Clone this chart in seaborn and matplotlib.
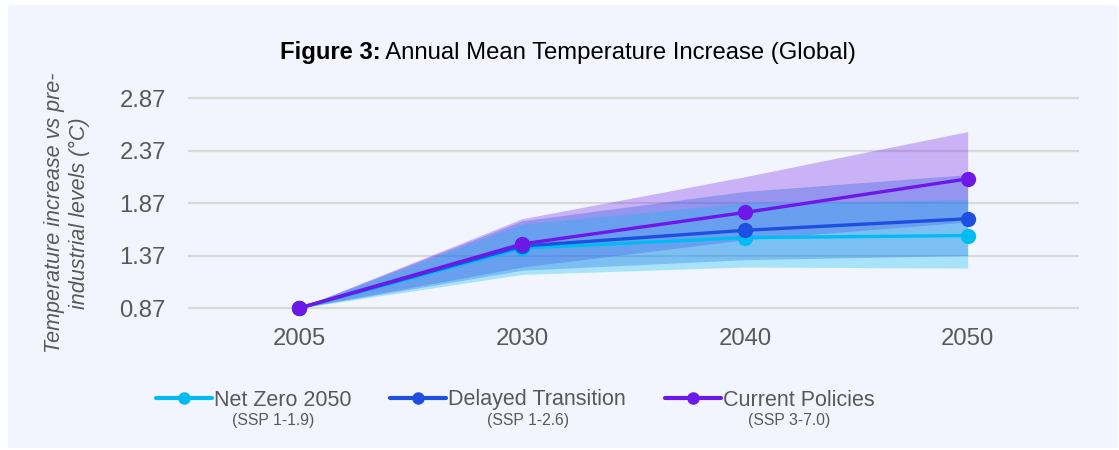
import matplotlib
matplotlib.use("Agg")
import matplotlib.pyplot as plt
from matplotlib.lines import Line2D
from matplotlib.patches import Rectangle
import numpy as np
import pandas as pd
import seaborn as sns

# ---- data -------------------------------------------------------------
years = ["2005", "2030", "2040", "2050"]
scenarios = ["Net Zero 2050", "Delayed Transition", "Current Policies"]
ssp_labels = ["(SSP 1-1.9)", "(SSP 1-2.6)", "(SSP 3-7.0)"]

net_zero_mean = [0.87, 1.44, 1.54, 1.56]
net_zero_low = [0.87, 1.19, 1.26, 1.25]
net_zero_high = [0.87, 1.67, 1.87, 1.90]

delayed_mean = [0.87, 1.46, 1.61, 1.72]
delayed_low = [0.87, 1.23, 1.33, 1.37]
delayed_high = [0.87, 1.70, 1.98, 2.14]

current_mean = [0.87, 1.48, 1.78, 2.10]
current_low = [0.87, 1.26, 1.52, 1.69]
current_high = [0.87, 1.72, 2.12, 2.55]

y_ticks = [0.87, 1.37, 1.87, 2.37, 2.87]

colors = ["#00BCF2", "#1E4FE0", "#6D17E8"]
band_alpha = [0.30, 0.30, 0.30]
bg = "#F2F5FD"
text_grey = "#595959"

means = [net_zero_mean, delayed_mean, current_mean]
lows = [net_zero_low, delayed_low, current_low]
highs = [net_zero_high, delayed_high, current_high]

df = pd.DataFrame({
    "year": years * len(scenarios),
    "scenario": np.repeat(scenarios, len(years)),
    "value": np.concatenate(means),
})

# ---- figure -----------------------------------------------------------
sns.set_theme(style="white")
plt.rcParams["font.family"] = ["Liberation Sans", "DejaVu Sans"]

W, H = 1119, 450
fig = plt.figure(figsize=(W / 100, H / 100), dpi=100, facecolor="white")
fig.patches.append(Rectangle((8 / W, 1 - 448 / H), 1110 / W, 443 / H,
                             transform=fig.transFigure, facecolor=bg,
                             edgecolor="none", zorder=-10))

ymin, ymax = 0.80, 2.95
px_per_unit = 105.0
top_px = 308 - (ymax - 0.87) * px_per_unit
bot_px = 308 + (0.87 - ymin) * px_per_unit
ax = fig.add_axes([188 / W, 1 - bot_px / H, 891 / W, (bot_px - top_px) / H])
ax.set_facecolor("none")

# uncertainty ranges, widest scenario at the back
xpos = np.arange(len(years))
for lo, hi, c, a in list(zip(lows, highs, colors, band_alpha))[::-1]:
    ax.fill_between(xpos, lo, hi, color=c, alpha=a, linewidth=0, zorder=1)

sns.lineplot(data=df, x="year", y="value", hue="scenario",
             hue_order=scenarios, palette=colors, marker="o",
             markersize=11, markeredgewidth=0, linewidth=2.4,
             legend=False, ax=ax, zorder=3)
for ln in ax.lines:
    ln.set_clip_on(False)

ax.set_xlim(-0.5, len(years) - 0.5)
ax.set_ylim(ymin, ymax)
ax.set_yticks(y_ticks)
ax.set_yticklabels([f"{v:.2f}" for v in y_ticks])
ax.grid(axis="y", color="#D9D9D9", linewidth=1.6, zorder=0)
ax.grid(axis="x", visible=False)
ax.set_axisbelow(True)
for s in ax.spines.values():
    s.set_visible(False)
ax.tick_params(axis="both", length=0, labelsize=17.2, colors=text_grey)
ax.tick_params(axis="y", pad=16)
ax.tick_params(axis="x", pad=9)
ax.set_xlabel("")
ax.set_ylabel("")

# y axis title
fig.text(67 / W, 1 - 213 / H,
         "Temperature increase vs pre-\nindustrial levels (°C)",
         rotation=90, ha="center", va="center", multialignment="center",
         fontsize=15.5, style="italic", color=text_grey, linespacing=1.3)

# title: bold prefix followed by regular text
renderer = fig.canvas.get_renderer()
t_bold = fig.text(0, 1 - 53 / H, "Figure 3:", fontsize=17.2,
                  fontweight="bold", color="black", va="center")
t_reg = fig.text(0, 1 - 53 / H, " Annual Mean Temperature Increase (Global)",
                 fontsize=17.2, color="black", va="center")
wb = t_bold.get_window_extent(renderer).width
wr = t_reg.get_window_extent(renderer).width
x0 = 568 - (wb + wr) / 2
t_bold.set_x(x0 / W)
t_reg.set_x((x0 + wb) / W)

# legend
handles = [Line2D([0], [0], color=c, linewidth=3, marker="o", markersize=9,
                  markeredgewidth=0) for c in colors]
leg = fig.legend(handles, scenarios, loc="center", ncol=3,
                 bbox_to_anchor=(515 / W, 1 - 400 / H), frameon=False,
                 fontsize=15.5, handlelength=2.6, handletextpad=0.1,
                 columnspacing=1.8, labelcolor=text_grey)

fig.canvas.draw()
for txt, sub in zip(leg.get_texts(), ssp_labels):
    bb = txt.get_window_extent(renderer)
    cx = (bb.x0 + bb.x1) / 2 - 9
    fig.text(cx / W, 1 - 421 / H, sub, ha="center", va="center",
             fontsize=11.3, color=text_grey)

fig.savefig("out.png", dpi=100, facecolor="white")
